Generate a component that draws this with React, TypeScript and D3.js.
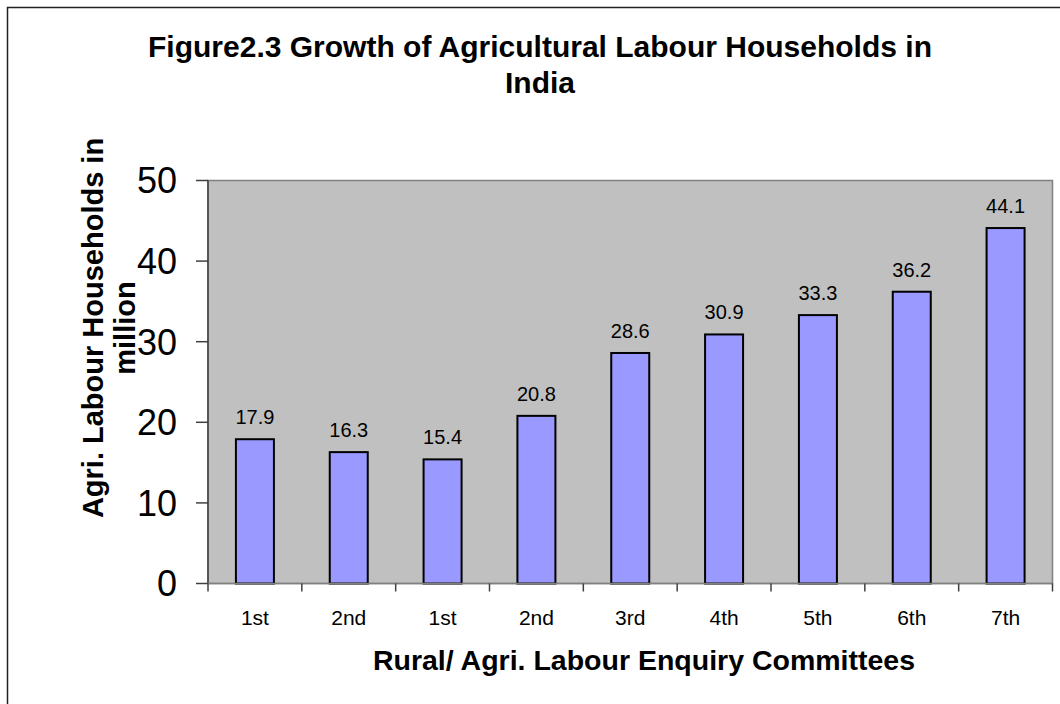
import React from "react";
import * as d3 from "d3";

const categories = ["1st", "2nd", "1st", "2nd", "3rd", "4th", "5th", "6th", "7th"];
const values = [17.9, 16.3, 15.4, 20.8, 28.6, 30.9, 33.3, 36.2, 44.1];
const yTicks = [0, 10, 20, 30, 40, 50];
const titleLines = ["Figure2.3 Growth of Agricultural Labour Households in", "India"];
const yTitleLines = ["Agri. Labour Households in", "million"];
const xTitle = "Rural/ Agri. Labour Enquiry Committees";

const W = 1060;
const H = 704;
const plot = { left: 208, top: 180.5, right: 1052.5, bottom: 583.5 };
const FONT = "'Liberation Sans', Arial, Helvetica, sans-serif";

export default function App() {
  const idx = categories.map((_, i) => i);
  const x = d3.scaleBand<number>().domain(idx).range([plot.left, plot.right]).paddingInner(0).paddingOuter(0);
  const y = d3.scaleLinear().domain([0, 50]).range([plot.bottom, plot.top]);
  const bw = x.bandwidth();
  const barW = bw * 0.405;
  const boundaries = d3.range(categories.length + 1).map((i) => plot.left + i * bw);

  return (
    <svg width={W} height={H} style={{ position: "absolute", left: 0, top: 0, background: "#fff" }} fontFamily={FONT}>
      <rect x={7.5} y={7.5} width={1200} height={1000} fill="#fff" stroke="#222" strokeWidth={1.5} />
      {titleLines.map((t, i) => (
        <text key={i} x={540} y={57 + i * 36} textAnchor="middle" fontWeight="bold" fontSize={30} fill="#000">
          {t}
        </text>
      ))}
      <rect x={plot.left} y={plot.top} width={plot.right - plot.left} height={plot.bottom - plot.top} fill="#c0c0c0" stroke="#808080" strokeWidth={1.5} />
      {values.map((v, i) => (
        <g key={i}>
          <rect
            x={x(i)! + (bw - barW) / 2}
            y={y(v)}
            width={barW}
            height={y(0) - y(v)}
            fill="#9999ff"
            stroke="#000"
            strokeWidth={2}
          />
          <text x={x(i)! + bw / 2} y={y(v) - 15} textAnchor="middle" fontSize={20} fill="#000">
            {v.toFixed(1)}
          </text>
          <text x={x(i)! + bw / 2} y={625} textAnchor="middle" fontSize={21} fill="#000">
            {categories[i]}
          </text>
        </g>
      ))}
      <line x1={plot.left} x2={plot.left} y1={plot.top} y2={plot.bottom} stroke="#404040" strokeWidth={1.5} />
      <line x1={plot.left} x2={plot.right} y1={plot.bottom} y2={plot.bottom} stroke="#808080" strokeWidth={1.5} />
      {yTicks.map((t) => (
        <g key={t}>
          <line x1={196} x2={plot.left} y1={y(t)} y2={y(t)} stroke="#404040" strokeWidth={1.5} />
          <text x={177} y={y(t)} dy="0.36em" textAnchor="end" fontSize={36} fill="#000">
            {t}
          </text>
        </g>
      ))}
      {boundaries.map((b, i) => (
        <line key={i} x1={b} x2={b} y1={plot.bottom} y2={plot.bottom + 8} stroke="#404040" strokeWidth={1.5} />
      ))}
      {yTitleLines.map((t, i) => (
        <text
          key={i}
          transform={`translate(${103 + i * 32},328) rotate(-90)`}
          textAnchor="middle"
          fontWeight="bold"
          fontSize={29}
          fill="#000"
        >
          {t}
        </text>
      ))}
      <text x={644} y={670} textAnchor="middle" fontWeight="bold" fontSize={28.5} fill="#000">
        {xTitle}
      </text>
    </svg>
  );
}
